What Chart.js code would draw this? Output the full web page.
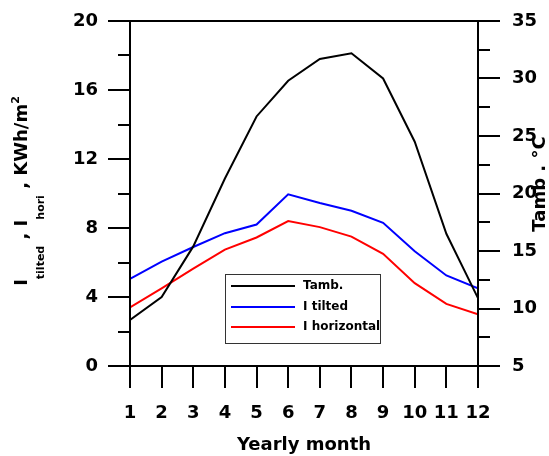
<!DOCTYPE html>
<html>
<head>
<meta charset="utf-8">
<script src="https://cdn.jsdelivr.net/npm/chart.js@4"></script>
<style>
  html, body { margin: 0; padding: 0; background: #fff; }
  #wrap { width: 549px; height: 456px; position: relative; }
</style>
</head>
<body>
<div id="wrap"><canvas id="chart" width="549" height="456"></canvas></div>
<script>
// Datos
const months = [1, 2, 3, 4, 5, 6, 7, 8, 9, 10, 11, 12];
const tamb = [9.0, 11.0, 15.4, 21.3, 26.7, 29.8, 31.7, 32.2, 30.0, 24.5, 16.5, 10.9];
const iTilted = [5.05, 6.05, 6.9, 7.7, 8.2, 9.95, 9.45, 9.0, 8.3, 6.65, 5.25, 4.5];
const iHori = [3.4, 4.5, 5.65, 6.75, 7.45, 8.4, 8.05, 7.5, 6.5, 4.8, 3.6, 3.0];
const seriesNames = ['Tamb.', 'I tilted', 'I horizontal'];
const seriesColors = ['#000000', '#0000ff', '#ff0000'];

const FONT = 'DejaVu Sans';
Chart.defaults.font.family = FONT;
Chart.defaults.font.weight = 'bold';
Chart.defaults.color = '#000';

const toPoints = (arr) => arr.map((v, i) => ({ x: months[i], y: v }));

// Sin relleno extra de las escalas: el área del gráfico queda fija
function noPad(s) {
    s.paddingTop = 0; s.paddingBottom = 0; s.paddingLeft = 0; s.paddingRight = 0;
}

// Marco, marcas de los ejes, títulos y leyenda dibujados a mano
const framePlugin = {
    id: 'frame',
    afterDatasetsDraw(chart) {
        const { ctx, chartArea: a, scales } = chart;
        ctx.save();
        ctx.strokeStyle = '#000';
        ctx.lineWidth = 2;
        ctx.strokeRect(a.left, a.top, a.right - a.left, a.bottom - a.top);
        ctx.beginPath();
        scales.y.ticks.forEach((t) => {
            const py = Math.round(scales.y.getPixelForValue(t.value));
            const len = t.value % 4 === 0 ? 22 : 12;
            ctx.moveTo(a.left - len, py); ctx.lineTo(a.left, py);
        });
        scales.y2.ticks.forEach((t) => {
            const py = Math.round(scales.y2.getPixelForValue(t.value));
            const len = t.value % 5 === 0 ? 22 : 12;
            ctx.moveTo(a.right, py); ctx.lineTo(a.right + len, py);
        });
        scales.x.ticks.forEach((t) => {
            const px = Math.round(scales.x.getPixelForValue(t.value));
            ctx.moveTo(px, a.bottom); ctx.lineTo(px, a.bottom + 22);
        });
        ctx.stroke();

        // Título del eje izquierdo con subíndices
        ctx.fillStyle = '#000';
        ctx.translate(27, 191);
        ctx.rotate(-Math.PI / 2);
        const parts = [
            ['I', 18, 0], ['tilted', 11, 17], [' , I', 18, 0], ['hori', 11, 17], [' , KWh/m', 18, 0], ['2', 11, -8]
        ];
        let total = 0;
        parts.forEach((p) => { ctx.font = `bold ${p[1]}px ${FONT}`; total += ctx.measureText(p[0]).width; });
        let x = -total / 2;
        ctx.textAlign = 'left';
        ctx.textBaseline = 'alphabetic';
        parts.forEach((p) => {
            ctx.font = `bold ${p[1]}px ${FONT}`;
            ctx.fillText(p[0], x, p[2]);
            x += ctx.measureText(p[0]).width;
        });
        ctx.restore();

        // Título del eje derecho
        ctx.save();
        ctx.translate(545, 184);
        ctx.rotate(-Math.PI / 2);
        ctx.font = `bold 18px ${FONT}`;
        ctx.textAlign = 'center';
        ctx.fillStyle = '#000';
        ctx.fillText('Tamb . °C', 0, 0);
        ctx.restore();

        // Leyenda
        ctx.save();
        ctx.fillStyle = '#fff';
        ctx.fillRect(225, 274, 155, 69);
        ctx.strokeStyle = '#333';
        ctx.lineWidth = 1;
        ctx.strokeRect(225.5, 274.5, 155, 69);
        ctx.font = `bold 12px ${FONT}`;
        ctx.textBaseline = 'middle';
        ctx.lineWidth = 2;
        [286, 307, 327].forEach((ly, i) => {
            ctx.strokeStyle = seriesColors[i];
            ctx.beginPath(); ctx.moveTo(231, ly); ctx.lineTo(295, ly); ctx.stroke();
            ctx.fillStyle = '#000';
            ctx.fillText(seriesNames[i], 303, ly);
        });
        ctx.restore();
    }
};

new Chart(document.getElementById('chart'), {
    type: 'line',
    data: {
        datasets: [
            { label: seriesNames[0], data: toPoints(tamb), yAxisID: 'y2', borderColor: seriesColors[0] },
            { label: seriesNames[1], data: toPoints(iTilted), yAxisID: 'y', borderColor: seriesColors[1] },
            { label: seriesNames[2], data: toPoints(iHori), yAxisID: 'y', borderColor: seriesColors[2] }
        ]
    },
    options: {
        responsive: false,
        animation: false,
        layout: { padding: { top: 21, left: 0, right: 0, bottom: 0 } },
        elements: { point: { radius: 0 }, line: { borderWidth: 2, tension: 0 } },
        plugins: { legend: { display: false }, tooltip: { enabled: false } },
        scales: {
            x: {
                type: 'linear', min: 1, max: 12,
                grid: { display: false, drawTicks: false }, border: { display: false },
                ticks: { stepSize: 1, padding: 37, font: { size: 18, weight: 'bold' }, color: '#000' },
                title: { display: true, text: 'Yearly month', font: { size: 18, weight: 'bold' }, color: '#000', padding: 0 },
                afterFit: (s) => { s.height = 90; noPad(s); }
            },
            y: {
                position: 'left', min: 0, max: 20,
                grid: { display: false, drawTicks: false }, border: { display: false },
                ticks: { stepSize: 2, padding: 32, font: { size: 18, weight: 'bold' }, color: '#000',
                    callback: (v) => (v % 4 === 0 ? v : '') },
                afterFit: (s) => { s.width = 130; noPad(s); }
            },
            y2: {
                position: 'right', min: 5, max: 35,
                grid: { display: false, drawTicks: false }, border: { display: false },
                ticks: { stepSize: 2.5, padding: 34, font: { size: 18, weight: 'bold' }, color: '#000',
                    callback: (v) => (v % 5 === 0 ? v : '') },
                afterFit: (s) => { s.width = 71; noPad(s); }
            }
        }
    },
    plugins: [framePlugin]
});
</script>
</body>
</html>
